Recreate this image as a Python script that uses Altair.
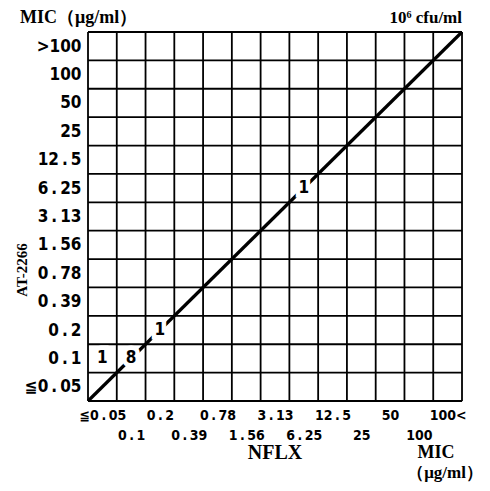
import json
import altair as alt
import pandas as pd

# Axis categories (MIC, ug/ml)
nflx_labels = ["≦0.05", "0.1", "0.2", "0.39", "0.78", "1.56", "3.13",
               "6.25", "12.5", "25", "50", "100", "100<"]
at_labels = ["≦0.05", "0.1", "0.2", "0.39", "0.78", "1.56", "3.13",
             "6.25", "12.5", "25", "50", "100", ">100"]

# Number of strains in each cell
cell_nflx = ["≦0.05", "0.1", "0.2", "6.25"]
cell_at = ["0.1", "0.1", "0.2", "6.25"]
cell_count = [1, 8, 1, 1]

n = len(nflx_labels)
W, H = 374, 369
LABEL_FONT = "Liberation Sans Narrow, DejaVu Sans Condensed, Liberation Sans"
TITLE_FONT = "Liberation Serif"

cells = pd.DataFrame({
    "x": [nflx_labels.index(v) + 0.5 for v in cell_nflx],
    "y": [at_labels.index(v) + 0.5 for v in cell_at],
    "n": [str(c) for c in cell_count],
})
grid = pd.DataFrame({"v": list(range(n + 1))})
diag = pd.DataFrame({"x": [0, n], "y": [0, n]})

xscale = alt.Scale(domain=[0, n], nice=False, zero=False)
yscale = alt.Scale(domain=[0, n], nice=False, zero=False)
centers = [i + 0.5 for i in range(n)]


def label_expr(labels):
    return ("replace(" + json.dumps(labels, ensure_ascii=False)
            + "[floor(datum.value)], '.', '\u2009.\u2009')")


xaxis = alt.Axis(
    values=centers, grid=False, ticks=False, domain=False, title=None,
    labelExpr=label_expr(nflx_labels),
    labelFont=LABEL_FONT, labelFontSize=14, labelFontWeight="bold", labelColor="black",
    labelBaseline="top", labelAngle=0, labelOverlap=False, labelBound=False,
    labelPadding={"condition": {"test": "floor(datum.value) % 2 == 1", "value": 27}, "value": 7},
)
yaxis = alt.Axis(
    values=centers, grid=False, ticks=False, domain=False, title=None,
    labelExpr=label_expr(at_labels),
    labelFont=LABEL_FONT, labelFontSize=17, labelFontWeight="bold", labelColor="black",
    labelPadding=7, labelOverlap=False, labelBound=False,
)

X = lambda f: alt.X(f, scale=xscale, axis=xaxis)
Y = lambda f: alt.Y(f, scale=yscale, axis=yaxis)

base = alt.Chart(cells).mark_text(opacity=0).encode(x=X("x:Q"), y=Y("y:Q"))

vgrid = alt.Chart(grid).mark_rule(color="black", strokeWidth=1.8).encode(x=X("v:Q"))
hgrid = alt.Chart(grid).mark_rule(color="black", strokeWidth=1.8).encode(y=Y("v:Q"))

line = alt.Chart(diag).mark_line(color="black", strokeWidth=3.2).encode(
    x=X("x:Q"), y=Y("y:Q"))

mask = alt.Chart(cells).mark_text(
    font=LABEL_FONT, fontSize=17, fontWeight="bold", fill="white",
    stroke="white", strokeWidth=9, baseline="middle").encode(
    x=X("x:Q"), y=Y("y:Q"), text="n:N")

nums = alt.Chart(cells).mark_text(
    font=LABEL_FONT, fontSize=17, fontWeight="bold", color="black",
    baseline="middle").encode(
    x=X("x:Q"), y=Y("y:Q"), text="n:N")


def ann(text, x, y, align="left", angle=0, size=18):
    return alt.Chart(pd.DataFrame({"t": [text]})).mark_text(
        font=TITLE_FONT, fontSize=size, fontWeight="bold", color="black",
        align=align, baseline="middle", angle=angle).encode(
        x=alt.value(x), y=alt.value(y), text="t:N")


titles = [
    ann("MIC（μg/ml）", -68, -14),
    ann("10⁶ cfu/ml", W, -14, align="right", size=17),
    ann("AT-2266", -66, 238, align="center", angle=270, size=15),
    ann("NFLX", 187, 421, align="center", size=20),
    ann("MIC", 348, 421, align="center"),
    ann("（μg/ml）", 357, 441, align="center", size=17),
]

chart = alt.layer(base, vgrid, hgrid, line, mask, nums, *titles).properties(
    width=W, height=H,
    autosize=alt.AutoSizeParams(type="none"),
    padding={"left": 80, "top": 24, "right": 20, "bottom": 82},
).configure_view(stroke="black", strokeWidth=2.4).configure(background="white")

chart.save("out.html", embed_options={"renderer": "svg", "actions": False})
